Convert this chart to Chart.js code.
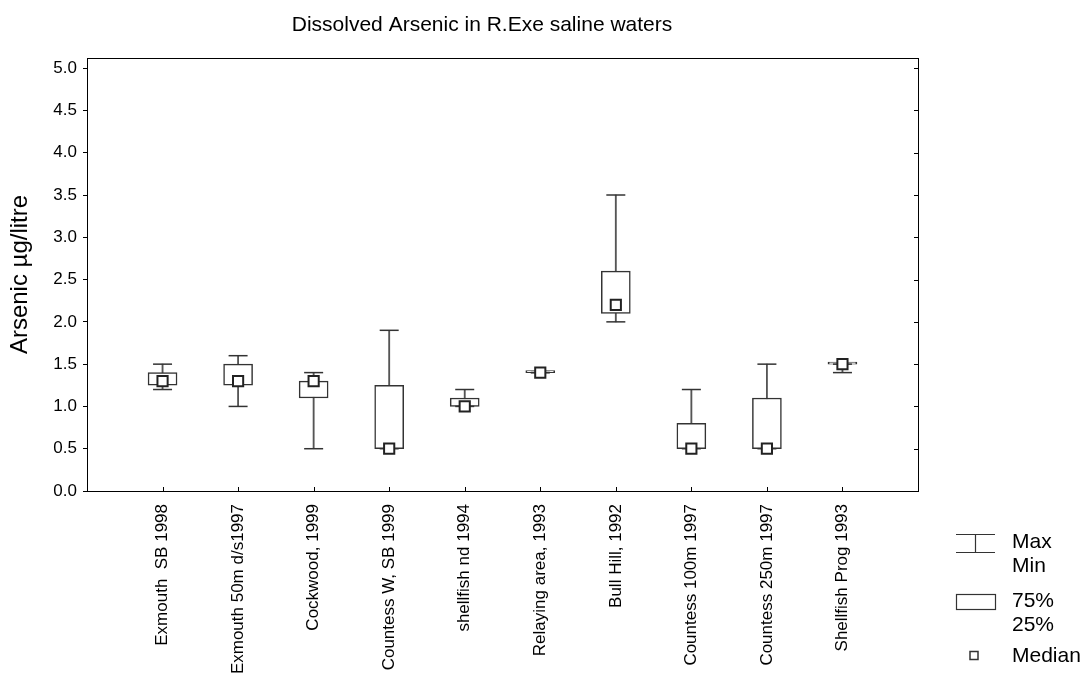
<!DOCTYPE html>
<html>
<head>
<meta charset="utf-8">
<title>Dissolved Arsenic in R.Exe saline waters</title>
<script src="https://cdn.jsdelivr.net/npm/chart.js@4.4.1/dist/chart.umd.min.js"></script>
<style>
  html, body { margin: 0; padding: 0; background: #fff; }
  #wrap { position: relative; width: 1085px; height: 678px; }
</style>
</head>
<body>
<div id="wrap"><canvas id="arsenicChart"></canvas></div>
<script>
// sites along the Exe estuary
const categories = [
  'Exmouth  SB 1998', 'Exmouth 50m d/s1997', 'Cockwood, 1999', 'Countess W, SB 1999',
  'shellfish nd 1994', 'Relaying area, 1993', 'Bull Hill, 1992', 'Countess 100m 1997',
  'Countess 250m 1997', 'Shellfish Prog 1993'
];
// arsenic µg/litre
const maxVals    = [1.5, 1.6, 1.4, 1.9, 1.2, 1.4, 3.5, 1.2, 1.5, 1.5];
const q3Vals     = [1.4, 1.5, 1.3, 1.25, 1.1, 1.4, 2.6, 0.8, 1.1, 1.5];
const medianVals = [1.3, 1.3, 1.3, 0.5, 1.0, 1.4, 2.2, 0.5, 0.5, 1.5];
const q1Vals     = [1.25, 1.25, 1.1, 0.5, 1.0, 1.4, 2.1, 0.5, 0.5, 1.5];
const minVals    = [1.2, 1.0, 0.5, 0.5, 1.0, 1.4, 2.0, 0.5, 0.5, 1.4];
const yTicks     = [0, 0.5, 1.0, 1.5, 2.0, 2.5, 3.0, 3.5, 4.0, 4.5, 5.0];

const FONT = '"Liberation Sans", Arial, sans-serif';
const INK = '#333';

// an empty slot either side, so the boxes sit one step in from the frame
const pad = arr => [null, ...arr, null];
const labels = pad(categories).map(l => l || '');
const whiskers = pad(minVals.map((v, i) => [v, maxVals[i]]));
const boxes = pad(q1Vals.map((v, i) => [v, q3Vals[i]]));

// frame, inward ticks, title and the legend on the right
const framePlugin = {
  id: 'frame',
  afterDraw(chart) {
    const { ctx, chartArea: a, scales } = chart;
    ctx.save();
    ctx.strokeStyle = '#000';
    ctx.lineWidth = 1;
    ctx.strokeRect(a.left + 0.5, a.top + 0.5, a.right - a.left, a.bottom - a.top);

    ctx.beginPath();
    yTicks.forEach(t => {
      const y = Math.round(scales.y.getPixelForValue(t)) + 0.5;
      ctx.moveTo(a.right, y); ctx.lineTo(a.right - 4, y);
    });
    categories.forEach((c, i) => {
      const x = Math.round(scales.x.getPixelForValue(i + 1)) + 0.5;
      ctx.moveTo(x, a.bottom); ctx.lineTo(x, a.bottom - 4);
    });
    ctx.stroke();

    ctx.fillStyle = '#000';
    ctx.font = '21px ' + FONT;
    ctx.textAlign = 'center';
    ctx.textBaseline = 'middle';
    ctx.fillText('Dissolved Arsenic in R.Exe saline waters', 482, 25);

    // legend
    const lx = a.right + 38, tx = a.right + 94;
    ctx.strokeStyle = INK;
    ctx.lineWidth = 1.2;
    ctx.beginPath();
    ctx.moveTo(lx, 534.5); ctx.lineTo(lx + 39, 534.5);
    ctx.moveTo(lx, 552.5); ctx.lineTo(lx + 39, 552.5);
    ctx.moveTo(lx + 19.5, 534.5); ctx.lineTo(lx + 19.5, 552.5);
    ctx.stroke();
    ctx.strokeRect(lx + 0.5, 594.5, 39, 15);
    ctx.lineWidth = 1.5;
    ctx.strokeRect(lx + 14, 651.5, 8, 8);

    ctx.font = '21px ' + FONT;
    ctx.textAlign = 'left';
    ctx.fillText('Max', tx, 542);
    ctx.fillText('Min', tx, 566);
    ctx.fillText('75%', tx, 601);
    ctx.fillText('25%', tx, 625);
    ctx.fillText('Median', tx, 656);
    ctx.restore();
  }
};

new Chart(document.getElementById('arsenicChart'), {
  type: 'bar',
  data: {
    labels: labels,
    datasets: [
      {
        type: 'line', label: 'Median', data: pad(medianVals), order: 0,
        showLine: false, pointStyle: 'rect', pointRadius: 7.2,
        pointBackgroundColor: '#fff', pointBorderColor: '#222', pointBorderWidth: 2
      },
      {
        type: 'line', label: 'Max', data: pad(maxVals), order: 1,
        showLine: false, pointStyle: 'line', pointRadius: 9.5,
        pointBorderColor: INK, pointBorderWidth: 1.5
      },
      {
        type: 'line', label: 'Min', data: pad(minVals), order: 1,
        showLine: false, pointStyle: 'line', pointRadius: 9.5,
        pointBorderColor: INK, pointBorderWidth: 1.5
      },
      {
        label: '25%-75%', data: boxes, order: 2, grouped: false,
        backgroundColor: '#fff', borderColor: INK, borderWidth: 1.5,
        borderSkipped: false, barThickness: 29, minBarLength: 2
      },
      {
        label: 'Min-Max', data: whiskers, order: 3, grouped: false,
        backgroundColor: '#555', borderWidth: 0, barThickness: 1.2
      }
    ]
  },
  options: {
    responsive: true,
    maintainAspectRatio: false,
    animation: false,
    events: [],
    layout: { padding: { top: 58, right: 167, left: 0, bottom: 0 } },
    plugins: {
      legend: { display: false },
      tooltip: { enabled: false },
      title: { display: false }
    },
    scales: {
      x: {
        offset: false,
        grid: { display: false },
        border: { display: false },
        ticks: {
          autoSkip: false, maxRotation: 90, minRotation: 90,
          padding: 5, color: '#000', font: { family: FONT, size: 17 }
        },
        afterFit: s => { s.height = 187; }
      },
      y: {
        min: 0, max: 5.12,
        grid: { drawOnChartArea: false, tickLength: 4, color: '#000' },
        border: { display: false },
        ticks: {
          stepSize: 0.5, includeBounds: false, padding: 6,
          color: '#000', font: { family: FONT, size: 17 },
          callback: v => v.toFixed(1)
        },
        title: {
          display: true, text: 'Arsenic µg/litre', color: '#000',
          font: { family: FONT, size: 24 }, padding: { top: 6, bottom: 8 }
        },
        afterFit: s => { s.width = 87; }
      }
    }
  },
  plugins: [framePlugin]
});
</script>
</body>
</html>
